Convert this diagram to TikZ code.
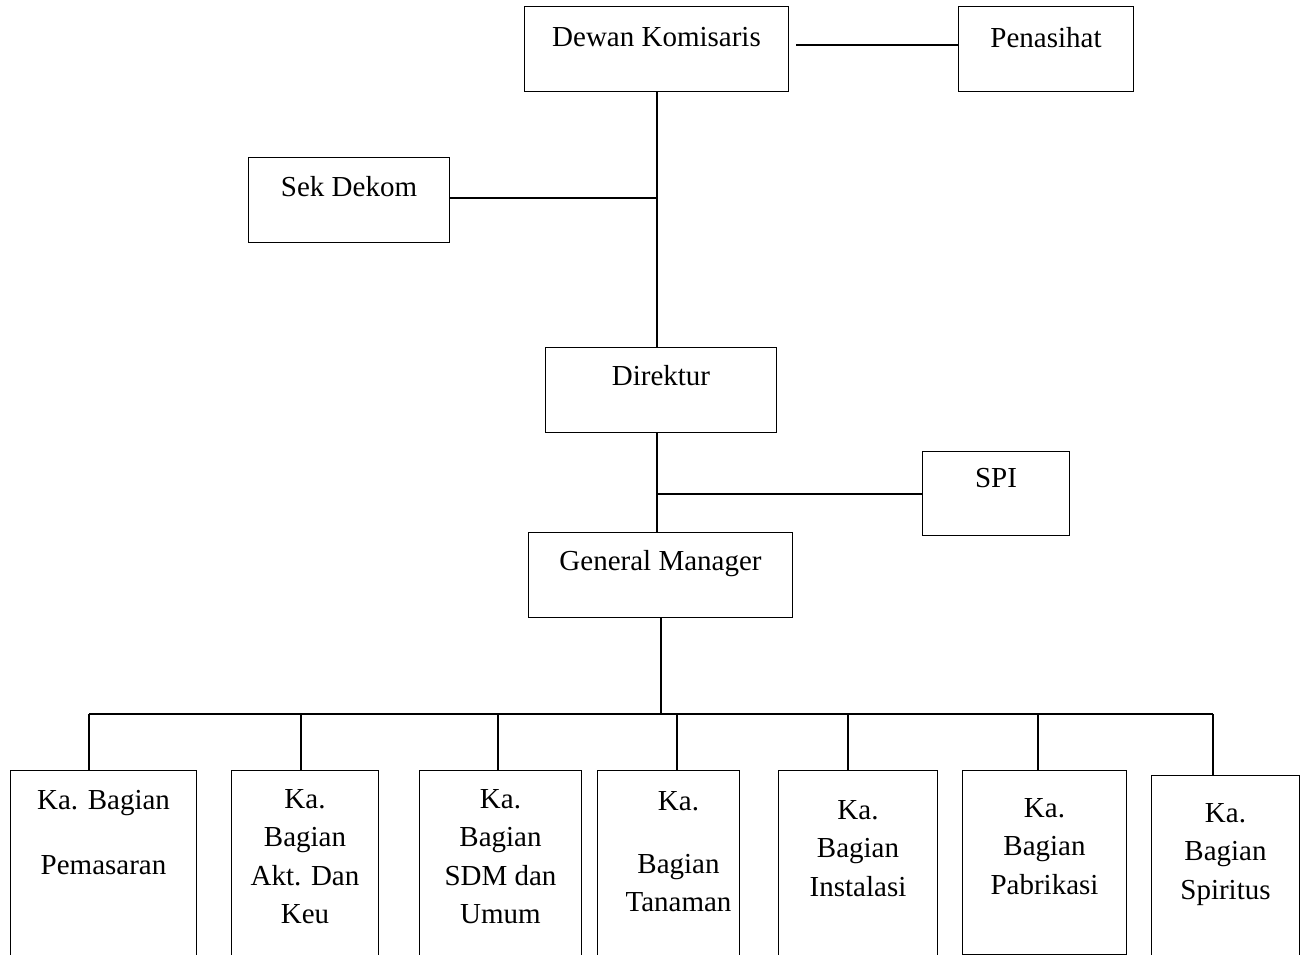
\documentclass[tikz,border=0pt]{standalone}
\usepackage{fontspec}
\setmainfont{Liberation Serif}
\usetikzlibrary{positioning}

\begin{document}
\begin{tikzpicture}[x=1pt,y=-1pt,
    box/.style={draw,line width=1pt,inner sep=0pt,anchor=north west},
    wh/.style 2 args={minimum width=#1,minimum height=#2},
    lbl/.style={inner sep=0pt,anchor=north,align=center,font=\fontsize{29}{38.5}\selectfont},
    conn/.style={line width=2pt}]
    \clip (0,0) rectangle (1306,955);
    % top of the chart
    \node[box,wh={264}{85}] (dk) at (524,6) {};
    \node[lbl,below=21pt of dk.north] (dk-t) {Dewan Komisaris};
    \node[box,wh={175}{85}] (pen) at (958,6) {};
    \node[lbl,below=21pt of pen.north] (pen-t) {Penasihat};
    \node[box,wh={201}{85}] (sek) at (248,157) {};
    \node[lbl,below=19pt of sek.north] (sek-t) {Sek Dekom};
    \node[box,wh={231}{85}] (dir) at (545,347) {};
    \node[lbl,below=18pt of dir.north] (dir-t) {Direktur};
    \node[box,wh={147}{84}] (spi) at (922,451) {};
    \node[lbl,below=17pt of spi.north] (spi-t) {SPI};
    \node[box,wh={264}{85}] (gm) at (528,532) {};
    \node[lbl,below=18pt of gm.north] (gm-t) {General Manager};
    % bagian
    \node[box,wh={186}{200}] (pem) at (10,770) {};
    \node[lbl,below=20pt of pem.north] (pem-t) {Ka. Bagian\\[26.5pt]Pemasaran};
    \node[box,wh={147}{200}] (akt) at (231,770) {};
    \node[lbl,below=19pt of akt.north] (akt-t) {Ka.\\Bagian\\Akt. Dan\\Keu};
    \node[box,wh={162}{200}] (sdm) at (419,770) {};
    \node[lbl,below=19pt of sdm.north] (sdm-t) {Ka.\\Bagian\\SDM dan\\Umum};
    \node[box,wh={142}{200}] (tan) at (597,770) {};
    \node[lbl,below=21pt of tan.north,xshift=10pt] (tan-t) {Ka.\\[24.5pt]Bagian\\Tanaman};
    \node[box,wh={159}{200}] (ins) at (778,770) {};
    \node[lbl,below=30pt of ins.north] (ins-t) {Ka.\\Bagian\\Instalasi};
    \node[box,wh={164}{184}] (pab) at (962,770) {};
    \node[lbl,below=28pt of pab.north] (pab-t) {Ka.\\Bagian\\Pabrikasi};
    \node[box,wh={148}{200}] (spr) at (1151,775) {};
    \node[lbl,below=28pt of spr.north] (spr-t) {Ka.\\Bagian\\Spiritus};
    % lines
    \draw[conn] ([xshift=7pt,yshift=4pt]dk.east) -- ([yshift=4pt]pen.west);
    \draw[conn] (dk.south) -- (dk.south |- dir.north);
    \draw[conn] ([yshift=2pt]sek.east) -- ([yshift=2pt]sek.east -| dk.south);
    \draw[conn] (dir.south -| dk.south) -- (gm.north -| dk.south);
    \draw[conn] (spi.west) -- (spi.west -| dk.south);
    \coordinate (busL) at (89,714);
    \coordinate (busR) at (1213,714);
    \draw[conn] (gm.south) -- (gm.south |- busL);
    \draw[conn] (busL) -- (busR);
    \foreach \n/\x in {pem/89,akt/301,sdm/498,tan/677,ins/848,pab/1038,spr/1213}
      \draw[conn] (\x,714) -- (\x,714 |- \n.north);
\end{tikzpicture}
\end{document}
